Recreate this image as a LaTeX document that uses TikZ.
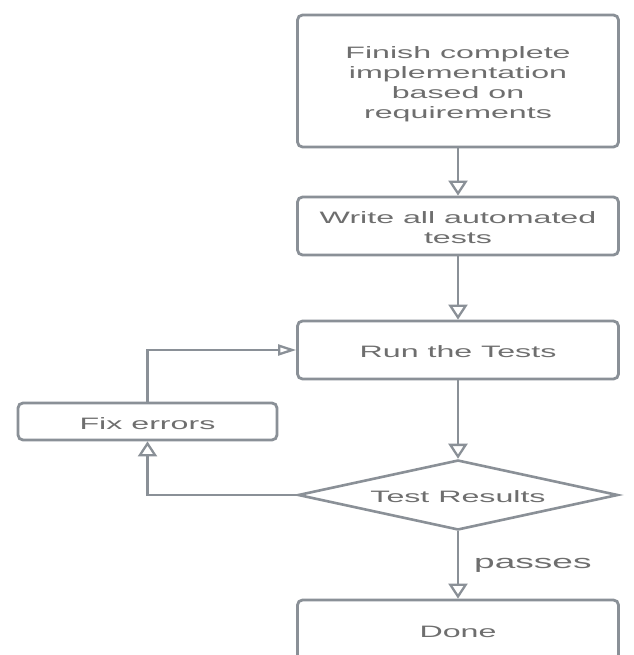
\documentclass[tikz,border=0pt]{standalone}
\usepackage{fontspec}
\setmainfont{Liberation Sans}
\usepackage{graphicx}
\usetikzlibrary{arrows.meta,shapes.geometric}
\definecolor{linegray}{HTML}{8A9097}
\definecolor{textgray}{HTML}{6E6E6E}
\newcommand{\widetxt}[2][2pt]{\raisebox{-#1}[\height][\depth]{\scalebox{1.95}[1]{#2}}}
\tikzset{
  box/.style={draw=linegray, line width=2.8pt, rounded corners=5pt, fill=white,
    inner sep=0pt, text=textgray, font=\fontsize{16.5}{20}\selectfont,
    minimum width=321pt, align=center},
  conn/.style={draw=linegray, line width=2.3pt},
  vtip/.style={-{Triangle[open, width=19pt, length=15pt]}},
  htip/.style={-{Triangle[open, width=11pt, length=18pt]}},
}
\begin{document}
\begin{tikzpicture}[x=1pt, y=-1pt]
  \useasboundingbox (0,0) rectangle (633,655);
  \clip (0,0) rectangle (633,655);
  \fill[white] (0,0) rectangle (633,655);

  \node[box, minimum height=132pt] (b1) at (458,81)
    {\widetxt[4pt]{\begin{tabular}{@{}c@{}}Finish complete\\implementation\\based on\\requirements\end{tabular}}};
  \node[box, minimum height=58pt] (b2) at (458,226)
    {\widetxt[3.5pt]{\begin{tabular}{@{}c@{}}Write all automated\\tests\end{tabular}}};
  \node[box, minimum height=58pt] (run) at (458,350)
    {\widetxt{Run the Tests}};
  \node[box, minimum width=259pt, minimum height=37pt] (fix) at (147.5,421.5)
    {\widetxt{Fix errors}};
  \node[diamond, aspect=4.57, draw=linegray, line width=2.6pt, fill=white, inner sep=0pt,
    minimum width=320pt, minimum height=70pt, text=textgray,
    font=\fontsize{16.5}{20}\selectfont] (dec) at (458,495)
    {\widetxt[1.5pt]{Test Results}};
  \node[box, minimum height=60pt] (done) at (458,630)
    {\widetxt[1.5pt]{Done}};

  \draw[conn, vtip] (b1.south) -- (b2.north);
  \draw[conn, vtip] (b2.south) -- (run.north);
  \draw[conn, vtip] (run.south) -- (dec.north);
  \draw[conn, htip] (fix.north) |- (run.west);
  \draw[conn, vtip] (dec.west) -| (fix.south);
  \draw[conn, vtip] (dec.south) -- node[pos=0.5, anchor=west, inner sep=0pt, xshift=15pt,
    text=textgray, font=\fontsize{19}{22}\selectfont] (lbl) {\widetxt[0pt]{passes}} (done.north);
\end{tikzpicture}
\end{document}
